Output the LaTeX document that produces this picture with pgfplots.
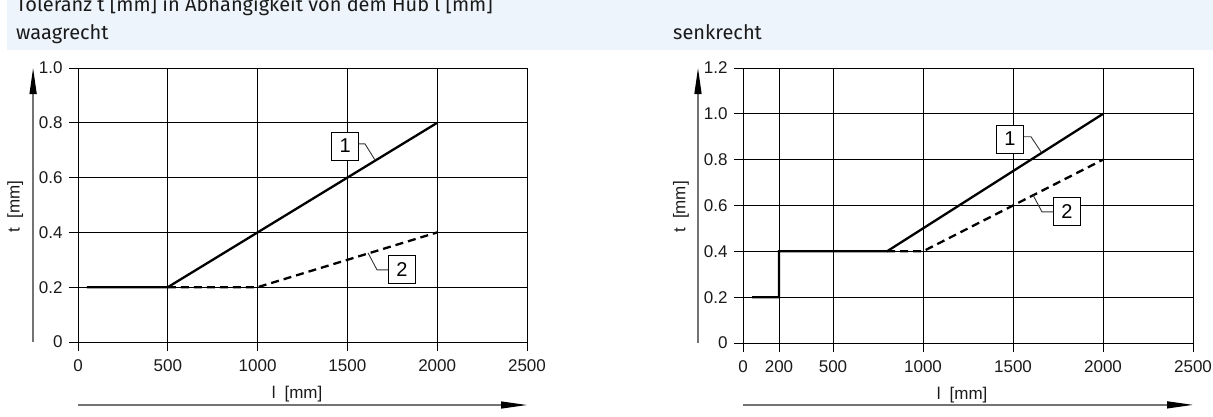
\documentclass[border=0pt]{standalone}
\usepackage{fontspec}
\setmainfont{Liberation Sans}
\newfontfamily\titlefont{Fira Sans}
\usepackage{pgfplots}
\pgfplotsset{compat=1.18}
\usetikzlibrary{arrows.meta}
\definecolor{band}{HTML}{EDF4FB}
\definecolor{ink}{HTML}{1A1A1A}
\pgfplotsset{
 tolstyle/.style={
  scale only axis, anchor=south west,
  xmin=0,xmax=2500,ymin=0,
  grid=major, grid style={black, line width=0.7pt},
  axis line style={black, line width=0.7pt},
  tick style={black, line width=0.7pt},
  tick align=outside, major tick length=9pt,
  tick pos=left,
  tick label style={font=\fontsize{17}{19}\selectfont, text=ink},
  xticklabel style={yshift=-5pt},
  yticklabel style={xshift=-3pt},
  clip=false,
 },
 sol/.style={black, line width=2.3pt, mark=none, solid, line join=miter},
 das/.style={black, line width=2.3pt, mark=none, dash pattern=on 8pt off 5pt, line join=miter},
}
\tikzset{
 boxlbl/.style={draw=black, line width=1pt, fill=white, minimum width=27pt, minimum height=28pt, inner sep=0pt, font=\fontsize{20}{22}\selectfont},
 leader/.style={line width=0.9pt, black!80},
 axarrow/.style={line width=1.3pt, black!55, -{Triangle[length=26pt,width=7pt,color=black]}},
 axlbl/.style={font=\fontsize{17}{19}\selectfont, text=ink, inner sep=0pt},
}
\begin{document}
\begin{tikzpicture}[x=1pt,y=1pt]
\useasboundingbox (0,0) rectangle (1213,416);
\fill[band] (7,366) rectangle (1213,416);
\node[anchor=base west, inner sep=0pt, font=\titlefont\fontsize{20}{24}\selectfont, text=ink] at (16,404) {Toleranz t [mm] in Abhängigkeit von dem Hub l [mm]};
\node[anchor=base west, inner sep=0pt, font=\titlefont\fontsize{20}{24}\selectfont, text=ink] at (16,376) {waagrecht};
\node[anchor=base west, inner sep=0pt, font=\titlefont\fontsize{20}{24}\selectfont, text=ink] at (673,376) {senkrecht};

% left chart
\begin{axis}[tolstyle, at={(78pt,74pt)}, width=449pt, height=274pt, ymax=1,
  xtick={0,500,1000,1500,2000,2500}, xticklabels={0,500,1000,1500,2000,2500},
  ytick={0,0.2,0.4,0.6,0.8,1.0}, yticklabels={0,0.2,0.4,0.6,0.8,1.0}]
\addplot[sol] coordinates {(50,0.2) (500,0.2) (2000,0.8)};
\addplot[das] coordinates {(500,0.2) (1000,0.2) (2000,0.4)};
\draw[leader] (axis cs:1565,0.723) -- (axis cs:1598,0.723) -- (axis cs:1654,0.664);
\node[boxlbl] at (axis cs:1487,0.715) {1};
\draw[leader] (axis cs:1726,0.263) -- (axis cs:1665,0.263) -- (axis cs:1615,0.325);
\node[boxlbl] at (axis cs:1804,0.263) {2};
\draw[axarrow] (rel axis cs:-0.1,0) -- (rel axis cs:-0.1,1);
\draw[axarrow] (rel axis cs:0,-0.23) -- (rel axis cs:1,-0.23);
\node[axlbl, rotate=90] at (rel axis cs:-0.14,0.495) {t\hspace{9pt}[mm]};
\node[axlbl] at (rel axis cs:0.488,-0.19) {l\hspace{9pt}[mm]};
\end{axis}

% right chart
\begin{axis}[tolstyle, at={(743pt,73pt)}, width=450pt, height=275pt, ymax=1.2,
  xtick={0,200,500,1000,1500,2000,2500}, xticklabels={0,200,500,1000,1500,2000,2500},
  ytick={0,0.2,0.4,0.6,0.8,1.0,1.2}, yticklabels={0,0.2,0.4,0.6,0.8,1.0,1.2}]
\addplot[sol] coordinates {(50,0.2) (200,0.2) (200,0.4) (800,0.4) (2000,1.0)};
\addplot[das] coordinates {(800,0.4) (1000,0.4) (2000,0.8)};
\draw[leader] (axis cs:1561,0.900) -- (axis cs:1600,0.900) -- (axis cs:1656,0.834);
\node[boxlbl] at (axis cs:1483,0.89) {1};
\draw[leader] (axis cs:1722,0.572) -- (axis cs:1661,0.572) -- (axis cs:1611,0.646);
\node[boxlbl] at (axis cs:1800,0.572) {2};
\draw[axarrow] (rel axis cs:-0.1,0) -- (rel axis cs:-0.1,1);
\draw[axarrow] (rel axis cs:0,-0.225) -- (rel axis cs:1,-0.225);
\node[axlbl, rotate=90] at (rel axis cs:-0.138,0.495) {t\hspace{9pt}[mm]};
\node[axlbl] at (rel axis cs:0.487,-0.189) {l\hspace{9pt}[mm]};
\end{axis}
\end{tikzpicture}
\end{document}
